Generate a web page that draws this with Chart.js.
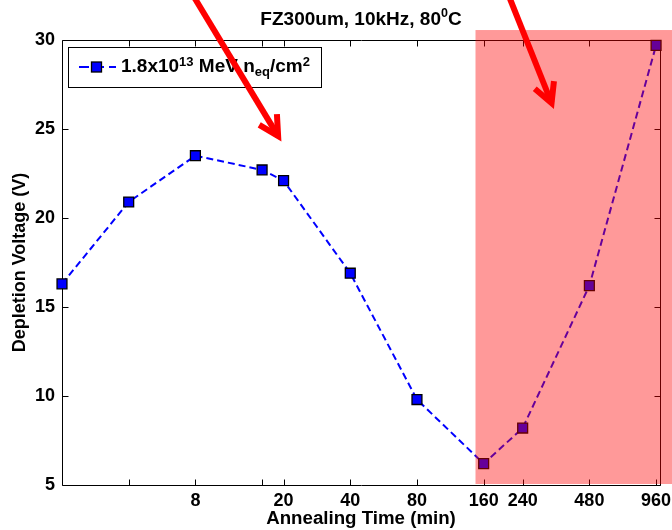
<!DOCTYPE html>
<html>
<head>
<meta charset="utf-8">
<script src="https://cdn.jsdelivr.net/npm/chart.js@4.4.1/dist/chart.umd.min.js"></script>
<style>
  html, body { margin: 0; padding: 0; background: #ffffff; }
  #wrap { width: 672px; height: 530px; }
</style>
</head>
<body>
<div id="wrap"><canvas id="c" width="672" height="530"></canvas></div>
<script>
// Annealing study: depletion voltage vs cumulative annealing time
const annealingTime = [2, 4, 8, 16, 20, 40, 80, 160, 240, 480, 960];          // min
const depletionVoltage = [16.3, 20.9, 23.5, 22.7, 22.1, 16.9, 9.8, 6.2, 8.2, 16.2, 29.7]; // V
const xTickValues = [4, 8, 16, 20, 40, 80, 160, 240, 480, 960];
const xTickLabels = ['', '8', '', '20', '40', '80', '160', '240', '480', '960'];
const yTickValues = [5, 10, 15, 20, 25, 30];

const FONT = '"Liberation Sans", Arial, Helvetica, sans-serif';

// draws a run of text pieces (with super/subscripts) left to right
function drawRich(ctx, x, y, parts, measureOnly) {
  let cx = x;
  for (const p of parts) {
    ctx.font = 'bold ' + p.size + 'px ' + FONT;
    if (!measureOnly) ctx.fillText(p.t, cx, y + (p.dy || 0));
    cx += ctx.measureText(p.t).width;
  }
  return cx - x;
}

// axes box with inward tick marks on all four sides
const frameTicks = {
  id: 'frameTicks',
  beforeDatasetsDraw(chart) {
    const { ctx, chartArea: a, scales } = chart;
    const L = Math.round(a.left) + 0.5, R = Math.round(a.right) + 0.5;
    const T = Math.round(a.top) + 0.5, B = Math.round(a.bottom) + 0.5;
    const len = 6;
    ctx.save();
    ctx.strokeStyle = '#000';
    ctx.lineWidth = 1;
    ctx.beginPath();
    ctx.rect(L, T, R - L, B - T);
    for (const v of xTickValues) {
      const px = Math.round(scales.x.getPixelForValue(v)) + 0.5;
      ctx.moveTo(px, B); ctx.lineTo(px, B - len);
      ctx.moveTo(px, T); ctx.lineTo(px, T + len);
    }
    for (const v of yTickValues) {
      const py = Math.round(scales.y.getPixelForValue(v)) + 0.5;
      ctx.moveTo(L, py); ctx.lineTo(L + len, py);
      ctx.moveTo(R, py); ctx.lineTo(R - len, py);
    }
    ctx.stroke();
    ctx.restore();
  }
};

// title, shaded late-annealing band, legend and pointer arrows
const overlays = {
  id: 'overlays',
  afterDatasetsDraw(chart, args, opts) {
    const { ctx, chartArea: a, scales } = chart;
    ctx.save();

    // shaded band (semi-transparent, over the data)
    const bx = scales.x.getPixelForValue(opts.band.from);
    const by = scales.y.getPixelForValue(opts.band.top);
    ctx.fillStyle = 'rgba(255,0,0,0.4)';
    ctx.fillRect(bx, by, chart.width - bx, a.bottom - 1 - by);

    // title
    ctx.fillStyle = '#000';
    ctx.textBaseline = 'alphabetic';
    ctx.textAlign = 'left';
    const titleParts = [
      { t: 'FZ300um, 10kHz, 80', size: 19 },
      { t: '0', size: 12.5, dy: -8 },
      { t: 'C', size: 19 }
    ];
    const tw = drawRich(ctx, 0, 0, titleParts, true);
    drawRich(ctx, (a.left + a.right) / 2 - tw / 2, 25, titleParts);

    // legend box
    const lx = a.left + 6, ly = a.top + 7, lw = 253, lh = 40;
    ctx.fillStyle = '#fff';
    ctx.fillRect(lx, ly, lw, lh);
    ctx.strokeStyle = '#000';
    ctx.lineWidth = 1;
    ctx.strokeRect(Math.round(lx) + 0.5, Math.round(ly) + 0.5, lw, lh);
    const cy = ly + 20;
    ctx.strokeStyle = '#0000ff';
    ctx.lineWidth = 2;
    ctx.setLineDash([10, 5]);
    ctx.beginPath();
    ctx.moveTo(lx + 11, cy); ctx.lineTo(lx + 48, cy);
    ctx.stroke();
    ctx.setLineDash([]);
    ctx.fillStyle = '#0000ff';
    ctx.fillRect(lx + 23.5, cy - 5, 10, 10);
    ctx.strokeStyle = '#000';
    ctx.lineWidth = 1.3;
    ctx.strokeRect(lx + 23.5, cy - 5, 10, 10);
    ctx.fillStyle = '#000';
    drawRich(ctx, lx + 53, cy + 5, [
      { t: '1.8x10', size: 19 },
      { t: '13', size: 13, dy: -6 },
      { t: ' MeV n', size: 19 },
      { t: 'eq', size: 13, dy: 4 },
      { t: '/cm', size: 19 },
      { t: '2', size: 13, dy: -6 }
    ]);

    // red pointer arrows
    ctx.strokeStyle = '#ff0000';
    ctx.lineWidth = 6;
    ctx.lineJoin = 'miter';
    ctx.lineCap = 'butt';
    for (const ar of opts.arrows) {
      const x0 = scales.x.getPixelForValue(ar.from.x), y0 = scales.y.getPixelForValue(ar.from.y);
      const x1 = scales.x.getPixelForValue(ar.to.x), y1 = scales.y.getPixelForValue(ar.to.y);
      const ang = Math.atan2(y1 - y0, x1 - x0);
      const hl = 22, ha = 28 * Math.PI / 180;
      ctx.beginPath();
      ctx.moveTo(x0, y0); ctx.lineTo(x1, y1);
      ctx.stroke();
      ctx.beginPath();
      ctx.moveTo(x1 - hl * Math.cos(ang - ha), y1 - hl * Math.sin(ang - ha));
      ctx.lineTo(x1, y1);
      ctx.lineTo(x1 - hl * Math.cos(ang + ha), y1 - hl * Math.sin(ang + ha));
      ctx.stroke();
    }
    ctx.restore();
  }
};

Chart.defaults.font.family = FONT;
Chart.defaults.font.weight = 'bold';
Chart.defaults.font.size = 18;
Chart.defaults.color = '#000';

new Chart(document.getElementById('c'), {
  type: 'line',
  data: {
    datasets: [{
      label: '1.8x10^13 MeV neq/cm^2',
      data: annealingTime.map((t, i) => ({ x: t, y: depletionVoltage[i] })),
      borderColor: '#0000ff',
      borderWidth: 2,
      borderDash: [7, 4],
      tension: 0,
      fill: false,
      pointStyle: 'rect',
      pointRadius: 7,
      pointHoverRadius: 7,
      pointBackgroundColor: '#0000ff',
      pointBorderColor: '#000000',
      pointBorderWidth: 1.3,
      clip: false
    }]
  },
  options: {
    responsive: false,
    animation: false,
    devicePixelRatio: 1,
    layout: { padding: { top: 40, right: 12, left: 0, bottom: 0 } },
    plugins: {
      legend: { display: false },
      title: { display: false },
      tooltip: { enabled: false },
      overlays: {
        band: { from: 147, top: 30.56 },
        arrows: [
          { from: { x: 7.9, y: 32.4 }, to: { x: 18.9, y: 24.6 } },
          { from: { x: 209, y: 32.4 }, to: { x: 324, y: 26.46 } }
        ]
      }
    },
    scales: {
      x: {
        type: 'logarithmic',
        min: 2,
        max: 1000,
        grid: { display: false, drawTicks: false },
        border: { display: false },
        afterBuildTicks(scale) { scale.ticks = xTickValues.map(v => ({ value: v })); },
        afterFit(scale) {
          scale.height = 45;
          scale.paddingLeft = 0;
          scale.paddingRight = 0;
        },
        ticks: {
          autoSkip: false,
          maxRotation: 0,
          padding: 5,
          font: { size: 18, weight: 'bold' },
          callback: (v, i) => xTickLabels[i]
        },
        title: {
          display: true,
          text: 'Annealing Time (min)',
          font: { size: 18.7, weight: 'bold' },
          padding: { top: 0, bottom: 0 }
        }
      },
      y: {
        type: 'linear',
        min: 5,
        max: 30,
        grid: { display: false, drawTicks: false },
        border: { display: false },
        afterBuildTicks(scale) { scale.ticks = yTickValues.map(v => ({ value: v })); },
        afterFit(scale) {
          scale.width = 62;
          scale.paddingTop = 0;
          scale.paddingBottom = 0;
        },
        ticks: {
          padding: 7,
          font: { size: 18, weight: 'bold' }
        },
        title: {
          display: true,
          text: 'Depletion Voltage (V)',
          font: { size: 18, weight: 'bold' },
          padding: { top: 9, bottom: 0 }
        }
      }
    }
  },
  plugins: [frameTicks, overlays]
});
</script>
</body>
</html>
